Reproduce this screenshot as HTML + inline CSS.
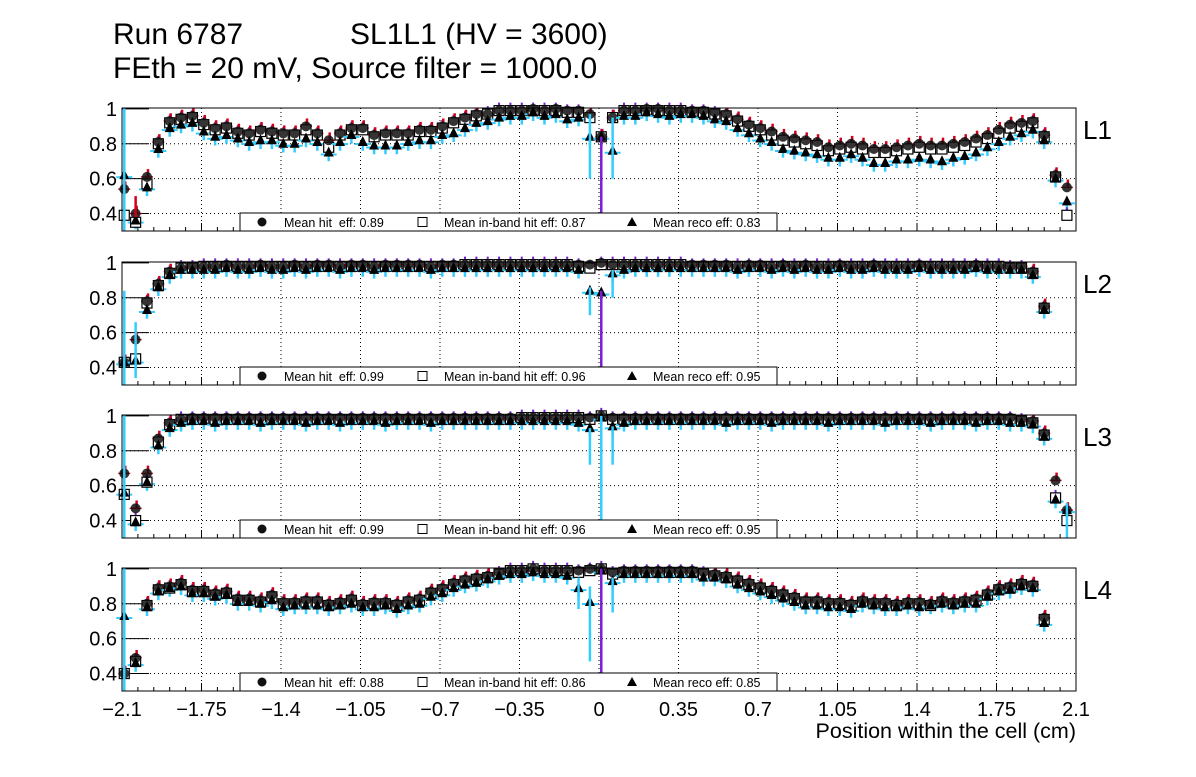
<!DOCTYPE html>
<html><head><meta charset="utf-8"><style>
body{margin:0;background:#fff;}
svg text{font-family:"Liberation Sans",sans-serif;white-space:pre;}
</style></head><body>
<svg id="c" width="1196" height="772" xmlns="http://www.w3.org/2000/svg">
<rect width="1196" height="772" fill="#fff"/>
<text x="113" y="44" font-size="30">Run 6787</text>
<text x="350" y="44" font-size="30">SL1L1 (HV = 3600)</text>
<text x="113" y="78" font-size="30">FEth = 20 mV, Source filter = 1000.0</text>
<text x="1076" y="738" font-size="21.5" text-anchor="end">Position within the cell (cm)</text>
</svg>
<script>
const layers=["L1","L2","L3","L4"];
const xTicks=[-2.1,-1.75,-1.4,-1.05,-0.7,-0.35,0,0.35,0.7,1.05,1.4,1.75,2.1];
const xTickLabels=["\u22122.1","\u22121.75","\u22121.4","\u22121.05","\u22120.7","\u22120.35","0","0.35","0.7","1.05","1.4","1.75","2.1"];
const yTicks=[0.4,0.6,0.8,1];
const yTickLabels=["0.4","0.6","0.8","1"];
const meanHit=["0.89","0.99","0.99","0.88"];
const meanBand=["0.87","0.96","0.96","0.86"];
const meanReco=["0.83","0.95","0.95","0.85"];
const hit1=[0.54,0.40,0.61,0.81,0.93,0.95,0.96,0.92,0.89,0.90,0.87,0.86,0.88,0.87,0.86,0.86,0.90,0.86,0.82,0.86,0.89,0.89,0.85,0.86,0.86,0.86,0.88,0.88,0.90,0.93,0.95,0.97,0.97,0.99,0.99,0.99,1.0,0.99,1.0,0.99,0.99,0.97,0.84,0.95,0.99,0.99,1.0,1.0,0.99,0.99,0.99,0.99,0.98,0.97,0.94,0.91,0.89,0.87,0.84,0.83,0.82,0.81,0.78,0.79,0.80,0.79,0.77,0.77,0.78,0.79,0.80,0.79,0.79,0.80,0.81,0.83,0.85,0.88,0.91,0.92,0.93,0.85,0.62,0.55];
const band1=[0.39,0.35,0.57,0.80,0.92,0.94,0.95,0.91,0.88,0.89,0.86,0.85,0.87,0.86,0.85,0.85,0.88,0.85,0.78,0.85,0.88,0.88,0.84,0.85,0.85,0.85,0.87,0.87,0.89,0.92,0.94,0.96,0.97,0.99,0.99,0.99,0.99,0.99,0.99,0.98,0.98,0.95,0.84,0.95,0.99,0.99,0.99,0.99,0.99,0.99,0.98,0.98,0.97,0.96,0.93,0.90,0.88,0.85,0.82,0.81,0.80,0.79,0.76,0.77,0.78,0.77,0.75,0.75,0.76,0.77,0.78,0.77,0.77,0.78,0.79,0.81,0.83,0.86,0.89,0.90,0.92,0.84,0.61,0.39];
const reco1=[0.62,0.36,0.55,0.77,0.89,0.91,0.92,0.87,0.84,0.85,0.83,0.81,0.82,0.82,0.80,0.80,0.83,0.81,0.75,0.81,0.85,0.81,0.79,0.79,0.79,0.81,0.82,0.82,0.85,0.86,0.89,0.92,0.93,0.95,0.96,0.96,0.98,0.96,0.97,0.94,0.95,0.84,0.84,0.76,0.96,0.96,0.98,0.97,0.96,0.97,0.97,0.96,0.94,0.93,0.89,0.86,0.83,0.81,0.77,0.76,0.75,0.74,0.72,0.72,0.74,0.72,0.69,0.69,0.71,0.71,0.72,0.71,0.70,0.72,0.73,0.75,0.78,0.81,0.84,0.86,0.88,0.82,0.60,0.47];
const hit2=[0.43,0.56,0.78,0.88,0.95,0.97,0.98,0.98,0.98,0.99,0.98,0.98,0.99,0.98,0.98,0.99,0.98,0.99,0.99,0.98,0.99,0.99,0.98,0.99,0.99,0.99,0.99,0.98,0.99,0.99,0.99,0.99,0.99,0.99,0.99,0.99,0.99,0.99,0.99,0.99,0.99,0.99,1.0,0.99,0.99,0.99,0.99,0.99,0.99,0.99,0.99,0.99,0.99,0.99,0.98,0.99,0.99,0.98,0.99,0.98,0.99,0.98,0.98,0.99,0.98,0.98,0.99,0.98,0.98,0.98,0.99,0.98,0.98,0.98,0.98,0.99,0.98,0.98,0.98,0.98,0.95,0.75,null,null];
const band2=[0.43,0.45,0.77,0.87,0.94,0.97,0.97,0.98,0.98,0.98,0.98,0.98,0.98,0.98,0.98,0.98,0.98,0.98,0.98,0.98,0.98,0.98,0.98,0.98,0.98,0.98,0.98,0.98,0.98,0.98,0.99,0.99,0.99,0.99,0.99,0.99,0.99,0.99,0.99,0.99,0.98,0.97,0.99,0.99,0.99,0.99,0.99,0.99,0.99,0.99,0.98,0.98,0.98,0.98,0.98,0.98,0.98,0.98,0.98,0.98,0.98,0.98,0.98,0.98,0.98,0.98,0.98,0.98,0.98,0.98,0.98,0.98,0.98,0.98,0.98,0.98,0.98,0.98,0.97,0.97,0.94,0.74,null,null];
const reco2=[0.43,0.44,0.73,0.86,0.93,0.96,0.96,0.96,0.96,0.97,0.96,0.96,0.97,0.96,0.96,0.97,0.96,0.97,0.97,0.96,0.97,0.97,0.96,0.97,0.97,0.97,0.97,0.96,0.97,0.97,0.97,0.97,0.97,0.97,0.97,0.97,0.97,0.97,0.97,0.97,0.96,0.84,0.83,0.94,0.96,0.97,0.97,0.97,0.97,0.97,0.97,0.97,0.97,0.97,0.96,0.97,0.97,0.96,0.97,0.96,0.97,0.96,0.96,0.97,0.96,0.96,0.97,0.96,0.96,0.96,0.97,0.96,0.96,0.96,0.96,0.97,0.96,0.96,0.96,0.96,0.93,0.73,null,null];
const hit3=[0.67,0.47,0.67,0.87,0.96,0.98,0.99,0.99,0.99,0.99,0.99,0.99,0.99,0.99,0.99,0.99,0.99,0.99,0.99,0.99,0.99,0.99,0.99,0.99,0.99,0.99,0.99,0.99,0.99,0.99,0.99,0.99,0.99,0.99,0.99,0.99,0.99,0.99,0.99,0.99,0.99,0.99,1.0,0.99,0.99,0.99,0.99,0.99,0.99,0.99,0.99,0.99,0.99,0.99,0.99,0.99,0.99,0.99,0.99,0.99,0.99,0.99,0.99,0.99,0.99,0.99,0.99,0.99,0.99,0.99,0.99,0.99,0.99,0.99,0.99,0.99,0.99,0.99,0.99,0.98,0.97,0.90,0.63,0.46];
const band3=[0.55,0.40,0.62,0.85,0.95,0.98,0.98,0.98,0.98,0.98,0.98,0.98,0.98,0.98,0.98,0.98,0.98,0.98,0.98,0.98,0.98,0.98,0.98,0.98,0.98,0.98,0.98,0.98,0.98,0.98,0.98,0.98,0.98,0.98,0.98,0.99,0.99,0.99,0.99,0.99,0.99,0.98,1.0,0.98,0.98,0.98,0.98,0.98,0.98,0.98,0.98,0.98,0.98,0.98,0.98,0.98,0.98,0.98,0.98,0.98,0.98,0.98,0.98,0.98,0.98,0.98,0.98,0.98,0.98,0.98,0.98,0.98,0.98,0.98,0.98,0.98,0.98,0.98,0.98,0.97,0.96,0.89,0.53,0.40];
const reco3=[0.56,0.39,0.62,0.83,0.93,0.96,0.97,0.97,0.96,0.97,0.97,0.97,0.96,0.97,0.97,0.97,0.96,0.97,0.97,0.96,0.97,0.97,0.97,0.96,0.97,0.97,0.97,0.96,0.97,0.97,0.97,0.97,0.97,0.97,0.97,0.97,0.97,0.97,0.97,0.97,0.96,0.93,0.99,0.94,0.96,0.97,0.97,0.97,0.97,0.97,0.97,0.97,0.97,0.96,0.97,0.97,0.97,0.96,0.97,0.97,0.97,0.97,0.96,0.97,0.97,0.97,0.97,0.96,0.97,0.97,0.97,0.96,0.97,0.97,0.97,0.96,0.97,0.97,0.96,0.96,0.95,0.88,0.52,0.46];
const hit4=[0.40,0.49,0.80,0.89,0.90,0.92,0.88,0.88,0.86,0.87,0.83,0.83,0.82,0.85,0.81,0.81,0.82,0.82,0.80,0.81,0.83,0.80,0.81,0.81,0.80,0.82,0.83,0.87,0.89,0.92,0.94,0.95,0.96,0.98,0.99,0.99,1.0,0.99,0.99,0.99,0.99,1.0,1.0,0.98,0.99,0.99,0.99,0.99,0.99,0.99,0.99,0.98,0.97,0.96,0.94,0.92,0.90,0.88,0.86,0.84,0.82,0.82,0.81,0.81,0.80,0.82,0.81,0.81,0.80,0.81,0.81,0.80,0.82,0.81,0.82,0.83,0.86,0.89,0.90,0.92,0.91,0.72,null,null];
const band4=[0.40,0.47,0.79,0.88,0.89,0.91,0.87,0.87,0.85,0.86,0.82,0.82,0.81,0.84,0.80,0.80,0.81,0.81,0.79,0.80,0.82,0.79,0.80,0.80,0.79,0.81,0.82,0.86,0.88,0.91,0.93,0.94,0.95,0.97,0.99,0.99,1.0,0.99,0.99,0.99,0.98,0.99,1.0,0.97,0.98,0.98,0.98,0.98,0.98,0.98,0.98,0.97,0.96,0.95,0.93,0.91,0.89,0.87,0.85,0.83,0.81,0.81,0.80,0.80,0.79,0.81,0.80,0.80,0.79,0.80,0.80,0.79,0.81,0.80,0.81,0.82,0.85,0.88,0.89,0.91,0.90,0.71,null,null];
const reco4=[0.73,0.46,0.78,0.87,0.89,0.90,0.86,0.86,0.84,0.85,0.81,0.81,0.80,0.82,0.78,0.79,0.79,0.79,0.78,0.79,0.80,0.78,0.78,0.79,0.77,0.79,0.80,0.84,0.86,0.89,0.91,0.92,0.94,0.96,0.97,0.97,0.98,0.97,0.97,0.96,0.89,0.81,0.99,0.93,0.97,0.97,0.97,0.97,0.97,0.97,0.97,0.95,0.95,0.94,0.91,0.89,0.87,0.85,0.83,0.81,0.79,0.79,0.78,0.78,0.77,0.80,0.79,0.78,0.78,0.79,0.78,0.79,0.80,0.79,0.80,0.80,0.84,0.87,0.88,0.90,0.89,0.69,null,null];
const hitSets=[hit1,hit2,hit3,hit4];
const bandSets=[band1,band2,band3,band4];
const recoSets=[reco1,reco2,reco3,reco4];
// large error bars: [panel, bin, color, low, high]
const bigBars=[[0,0,"#33ccff",0.3,1.01],[0,41,"#33ccff",0.6,0.97],[0,42,"#7a1fd6",0.3,0.84],[0,43,"#33ccff",0.6,0.95],[0,1,"#d0001a",0.38,0.5],
[1,0,"#33ccff",0.3,0.84],[1,1,"#33ccff",0.34,0.66],[1,41,"#33ccff",0.7,0.86],[1,42,"#7a1fd6",0.3,0.84],[1,43,"#33ccff",0.8,0.96],
[2,0,"#33ccff",0.3,1.01],[2,41,"#33ccff",0.72,0.93],[2,42,"#33ccff",0.3,1.0],[2,43,"#33ccff",0.72,0.94],[2,83,"#33ccff",0.3,0.5],
[3,0,"#33ccff",0.3,1.01],[3,40,"#33ccff",0.77,0.95],[3,41,"#33ccff",0.47,0.9],[3,42,"#7a1fd6",0.3,1.0],[3,43,"#33ccff",0.75,0.95]];
const NS="http://www.w3.org/2000/svg";
const svg=document.getElementById("c");
const X0=122,X1=1076,PT=[108,262,415,568],PH=123,YMIN=0.3,YMAX=1.005;
function sx(v){return X0+(v+2.1)/4.2*(X1-X0);}
function binX(i){return -2.09+0.05*i;}
function mk(tag,attrs,parent){const e=document.createElementNS(NS,tag);for(const k in attrs)e.setAttribute(k,attrs[k]);(parent||svg).appendChild(e);return e;}
layers.forEach((L,p)=>{
  const top=PT[p];
  const sy=v=>top+PH-(v-YMIN)/(YMAX-YMIN)*PH;
  const g=mk("g",{});
  
  
  xTicks.forEach(t=>{if(t>-2.1&&t<2.1){const l=mk("line",{x1:sx(t),x2:sx(t),y1:top,y2:top+PH,stroke:"#000","stroke-dasharray":"1,3","stroke-width":1},g);
    }});
  yTicks.forEach(t=>{if(t<1){const l=mk("line",{x1:X0,x2:X1,y1:sy(t),y2:sy(t),stroke:"#000","stroke-dasharray":"1,3","stroke-width":1},g);
    }
    mk("line",{x1:X0,x2:X0+27,y1:sy(t),y2:sy(t),stroke:"#000","stroke-width":1},g);
    const tl=mk("text",{x:X0-5,y:sy(t)+7,"font-size":20,"text-anchor":"end"},g);tl.textContent=yTickLabels[yTicks.indexOf(t)];
    });
  for(let v=-2.1;v<=2.1001;v+=0.07){const maj=xTicks.some(t=>Math.abs(t-v)<1e-6);
    mk("line",{x1:sx(v),x2:sx(v),y1:top+PH,y2:top+PH-(maj?8:4),stroke:"#000"},g);}
  const hit=hitSets[p],band=bandSets[p],reco=recoSets[p];
  hit.forEach((h,i)=>{
    if(h===null)return;
    const x=sx(binX(i));const b=band[i],r=reco[i];
    const eb=mk("g",{},g);
    
    mk("line",{x1:x,x2:x,y1:sy(r)+3,y2:Math.min(top+PH,sy(r-0.05)),stroke:"#33ccff","stroke-width":2.5},eb);
    mk("line",{x1:x-8,x2:x-3,y1:sy(r)+2,y2:sy(r)+2,stroke:"#33ccff","stroke-width":2},eb);
    mk("line",{x1:x+3,x2:x+8,y1:sy(r)+2,y2:sy(r)+2,stroke:"#33ccff","stroke-width":2},eb);
    mk("line",{x1:x,x2:x,y1:sy(b)-2,y2:sy(b)-8,stroke:"#7a1fd6","stroke-width":2},eb);
    mk("line",{x1:x+1,x2:x+1,y1:sy(h),y2:Math.max(top,sy(h+0.045)),stroke:"#d0001a","stroke-width":2.5},eb);
    mk("line",{x1:x-6,x2:x+6,y1:sy(h),y2:sy(h),stroke:"#d0001a","stroke-width":1.5},eb);
    const sq=mk("rect",{x:x-5,y:sy(b)-5,width:10,height:10,fill:"#fff",stroke:"#000","stroke-width":1.2},g);
    
    const c=mk("circle",{cx:x,cy:sy(h),r:5,fill:"#111","fill-opacity":0.85},g);
    
    const tr=mk("polygon",{points:`${x},${sy(r)-6} ${x-5},${sy(r)+4} ${x+5},${sy(r)+4}`,fill:"#000"},g);
    
  });
  bigBars.filter(b=>b[0]===p).forEach(b=>{const x=sx(binX(b[1]));
    const l=mk("line",{x1:x,x2:x,y1:sy(Math.min(b[4],YMAX)),y2:sy(Math.max(b[3],YMIN)),stroke:b[2],"stroke-width":2.5},g);
    });
  const leg=mk("g",{},g);
  
  mk("rect",{x:240,y:top+PH-18,width:537,height:18,fill:"#fff",stroke:"#000","stroke-width":1},leg);
  mk("circle",{cx:262,cy:top+PH-9,r:4.5,fill:"#111"},leg);
  let t=mk("text",{x:284,y:top+PH-4,"font-size":12.5},leg);t.textContent="Mean hit  eff: "+meanHit[p];
  mk("rect",{x:418,y:top+PH-13.5,width:9,height:9,fill:"#fff",stroke:"#000"},leg);
  t=mk("text",{x:444,y:top+PH-4,"font-size":12.5},leg);t.textContent="Mean in-band hit eff: "+meanBand[p];
  mk("polygon",{points:`632,${top+PH-14} 627,${top+PH-5} 637,${top+PH-5}`,fill:"#000"},leg);
  t=mk("text",{x:653,y:top+PH-4,"font-size":12.5},leg);t.textContent="Mean reco eff: "+meanReco[p];
  const fr=mk("rect",{x:X0,y:top,width:X1-X0,height:PH,fill:"none",stroke:"#000","stroke-width":1},g);
  
  const lab=mk("text",{x:1083,y:top+31,"font-size":26},g);lab.textContent=L;
  
});
xTicks.forEach((t,i)=>{const tl=mk("text",{x:sx(t),y:716,"font-size":20,"text-anchor":"middle"});tl.textContent=xTickLabels[i];
  });
</script>
</body></html>
